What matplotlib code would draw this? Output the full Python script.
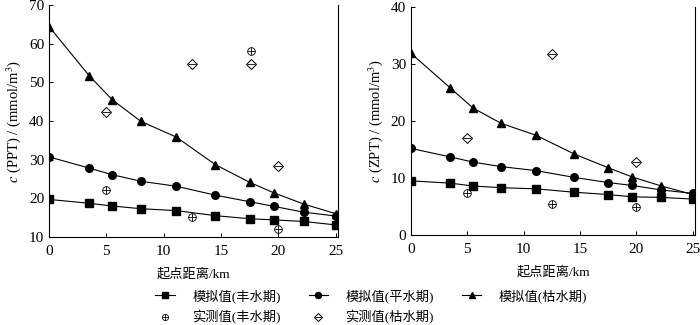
import numpy as np
import matplotlib
matplotlib.use("Agg")
import matplotlib.pyplot as plt

plt.rcParams['font.family'] = ['Liberation Serif', 'Noto Sans CJK SC']
plt.rcParams['mathtext.fontset'] = 'stix'

dist = [0, 3.5, 5.5, 8.0, 11.1, 14.5, 17.5, 19.6, 22.2, 25]
meas_x_ppt = [5, 12.5, 17.6, 20]
meas_x_zpt = [5, 12.5, 20]

# PPT, simulated
ppt_wet = [19.7, 18.7, 18.0, 17.3, 16.8, 15.5, 14.7, 14.4, 14.0, 13.1]
ppt_normal = [30.7, 27.8, 26.1, 24.4, 23.1, 20.8, 19.1, 17.9, 16.4, 15.4]
ppt_dry = [64.4, 51.7, 45.5, 39.9, 35.8, 28.7, 24.1, 21.4, 18.5, 16.0]
# PPT, measured
ppt_meas_wet = [22.1, 15.1, 58.0, 12.1]
ppt_meas_dry = [42.2, 54.8, 54.8, 28.3]

# ZPT, simulated
zpt_wet = [9.5, 9.1, 8.6, 8.3, 8.1, 7.5, 7.1, 6.7, 6.6, 6.3]
zpt_normal = [15.2, 13.7, 12.8, 12.0, 11.3, 10.1, 9.2, 8.7, 7.9, 7.3]
zpt_dry = [31.9, 25.8, 22.3, 19.6, 17.5, 14.2, 11.8, 10.2, 8.6, 7.1]
# ZPT, measured
zpt_meas_wet = [7.3, 5.4, 4.9]
zpt_meas_dry = [17.1, 31.8, 12.8]

fig = plt.figure(figsize=(7, 3.25), dpi=100)
ax1 = fig.add_axes([0.070, 0.271, 0.413, 0.714])
ax2 = fig.add_axes([0.587, 0.277, 0.406, 0.701])

fs = 9.5
tfs = 11


def draw(ax, sw, sn, sd, mx, mw, md):
    kw = dict(color='black', lw=0.8, ms=5.5, mec='black')
    h1, = ax.plot(dist, sw, marker='s', **kw)
    h2, = ax.plot(dist, sn, marker='o', **kw)
    h3, = ax.plot(dist, sd, marker='^', **kw)
    a, = ax.plot(mx, mw, ls='none', marker='o', ms=5.5, mfc='none', mec='black', mew=0.6)
    b, = ax.plot(mx, mw, ls='none', marker='+', ms=5.5, mec='black', mew=0.6)
    c, = ax.plot(mx, md, ls='none', marker='D', ms=5.5, mfc='none', mec='black', mew=0.7)
    d, = ax.plot(mx, md, ls='none', marker='_', ms=5.5, mec='black', mew=0.6)
    ax.set_xlim(0, 25.2)
    ax.set_xticks([0, 5, 10, 15, 20, 25])
    ax.spines['top'].set_visible(False)
    for s in ['left', 'bottom', 'right']:
        ax.spines[s].set_linewidth(0.8)
    ax.tick_params(direction='in', length=3, width=0.7, labelsize=tfs, right=False)
    ax.tick_params(axis='x', pad=6)
    ax.set_xlabel('起点距离/km', fontsize=fs, labelpad=7)
    return [h1, (a, b), h2, (c, d), h3]


handles = draw(ax1, ppt_wet, ppt_normal, ppt_dry, meas_x_ppt, ppt_meas_wet, ppt_meas_dry)
ax1.set_ylim(10, 70)
ax1.set_yticks(range(10, 71, 10))
ax1.set_ylabel(r'$c$ (PPT) / (mmol/m$^3$)', fontsize=10.5)

draw(ax2, zpt_wet, zpt_normal, zpt_dry, meas_x_zpt, zpt_meas_wet, zpt_meas_dry)
ax2.set_ylim(0, 40)
ax2.set_yticks(range(0, 41, 10))
ax2.set_ylabel(r'$c$ (ZPT) / (mmol/m$^3$)', fontsize=10.5)

labels = ['模拟值(丰水期)', '实测值(丰水期)', '模拟值(平水期)', '实测值(枯水期)', '模拟值(枯水期)']
fig.legend(handles, labels, ncol=3, loc='lower left', bbox_to_anchor=(0.205, -0.035),
           frameon=False, fontsize=fs, handlelength=1.5, columnspacing=2.1,
           handletextpad=1.3, labelspacing=0.55, markerscale=0.8)

fig.savefig('out.png', dpi=100)
